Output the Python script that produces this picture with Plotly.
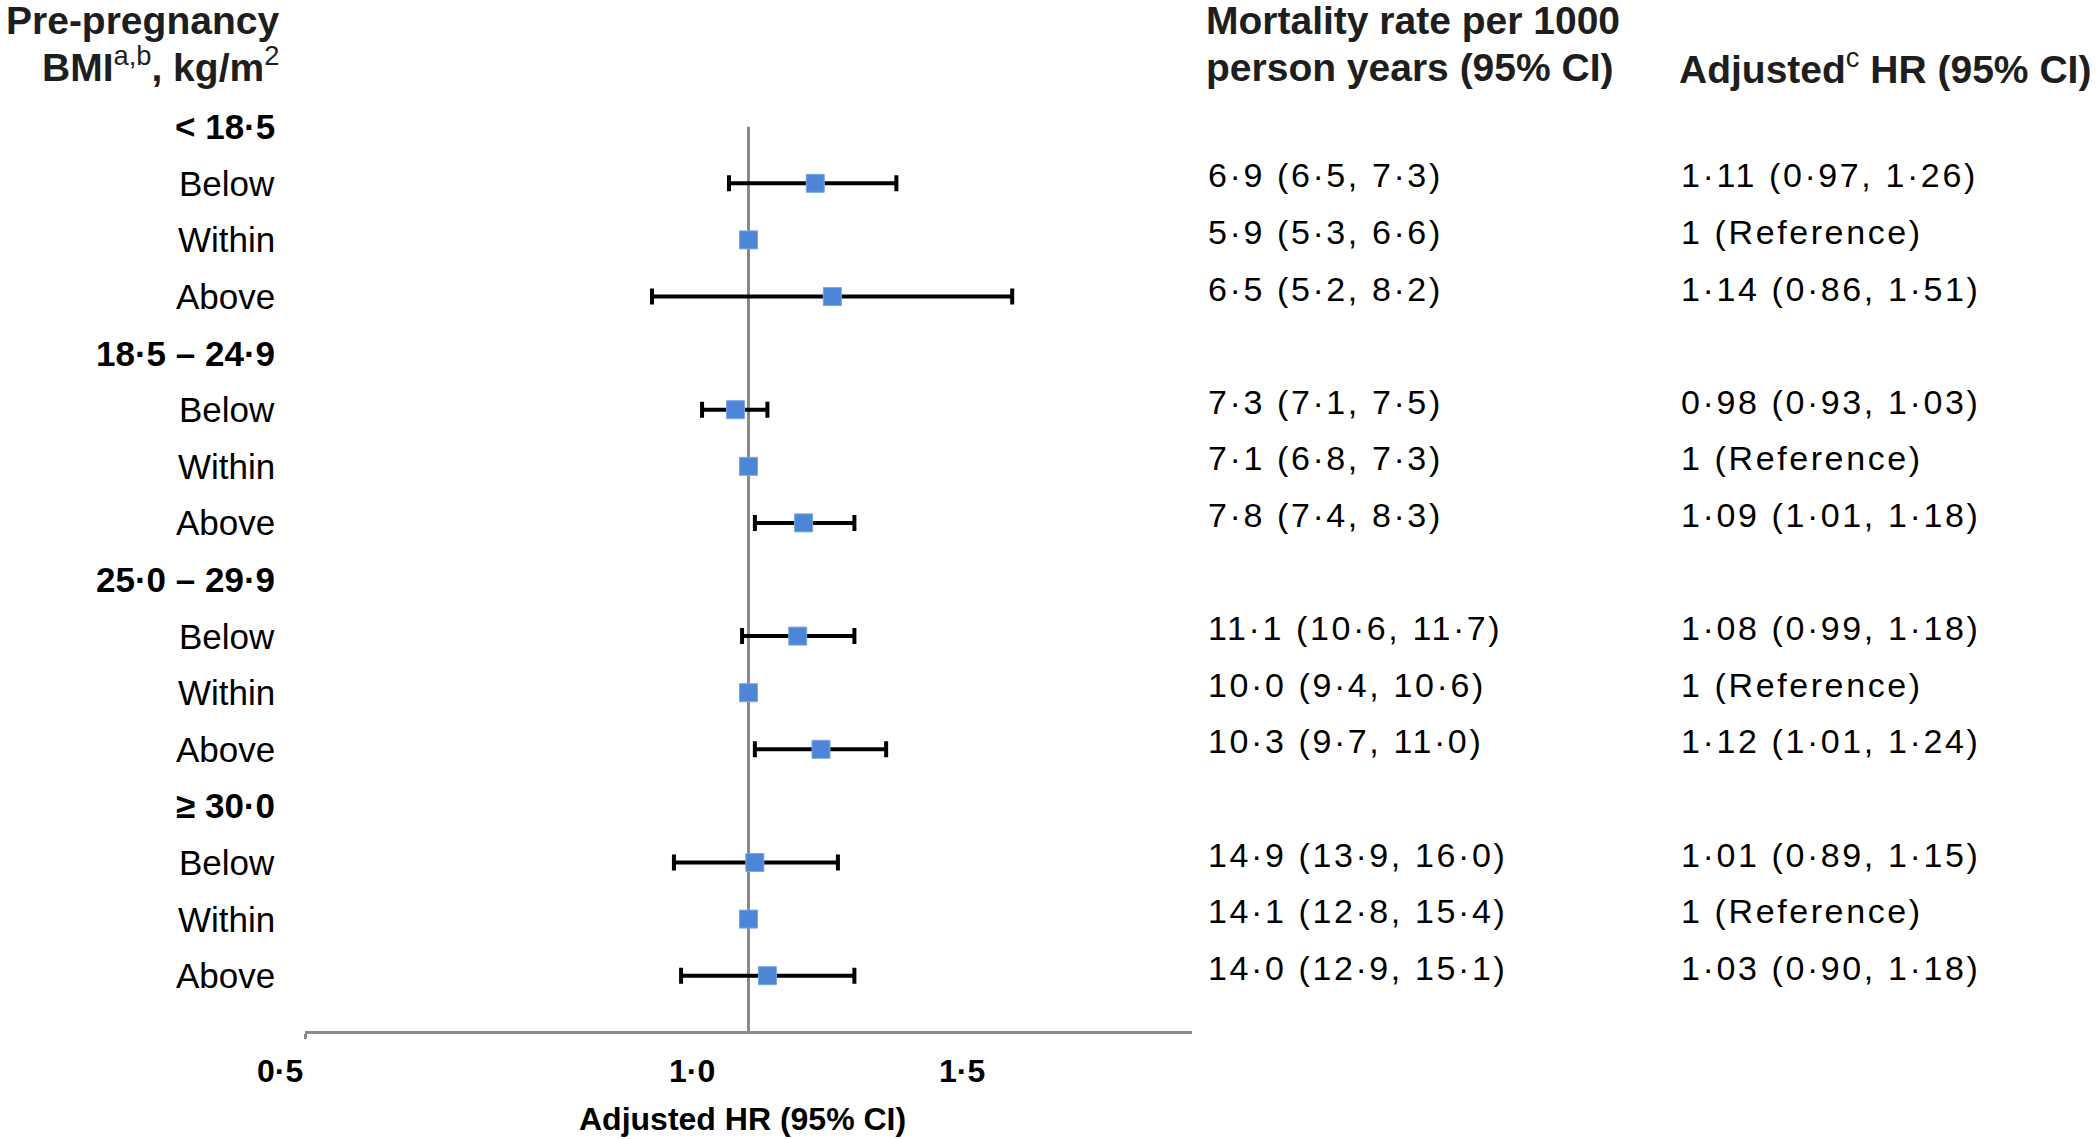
import math
import plotly.graph_objects as go

# ---------------- data ----------------
groups = ["< 18·5", "18·5 – 24·9", "25·0 – 29·9", "≥ 30·0"]
subgroups = ["Below", "Within", "Above"]

hr = [1.11, 1.00, 1.14, 0.98, 1.00, 1.09, 1.08, 1.00, 1.12, 1.01, 1.00, 1.03]
hr_lo = [0.97, None, 0.86, 0.93, None, 1.01, 0.99, None, 1.01, 0.89, None, 0.90]
hr_hi = [1.26, None, 1.51, 1.03, None, 1.18, 1.18, None, 1.24, 1.15, None, 1.18]

rate = [6.9, 5.9, 6.5, 7.3, 7.1, 7.8, 11.1, 10.0, 10.3, 14.9, 14.1, 14.0]
rate_lo = [6.5, 5.3, 5.2, 7.1, 6.8, 7.4, 10.6, 9.4, 9.7, 13.9, 12.8, 12.9]
rate_hi = [7.3, 6.6, 8.2, 7.5, 7.3, 8.3, 11.7, 10.6, 11.0, 16.0, 15.4, 15.1]

x_tick_labels = ["0·5", "1·0", "1·5"]

# ---------------- layout geometry ----------------
W, H = 2100, 1139
L, R = 305, 1192          # plot area left / right (px)
T, B = 100, 1031          # plot area top / bottom (px)
ROW0, ROWSTEP = 126.7, 56.6
PW, PH = R - L, B - T
y_top = -(ROW0 - T) / ROWSTEP
y_bot = y_top + PH / ROWSTEP


def px_x(px):
    return (px - L) / PW


def px_y(py):
    return (B - py) / PH


def fmt(v, d):
    return f"{v:.{d}f}".replace(".", "·")


FONT = "Liberation Sans, Arial, sans-serif"
BLUE = "#4d86d6"
GRAY = "#8a8a8a"

# row positions
data_y = []
for g in range(len(groups)):
    for s in range(len(subgroups)):
        data_y.append(g * 4 + s + 1)

err_plus = [(h - v) if h is not None else None for v, h in zip(hr, hr_hi)]
err_minus = [(v - l) if l is not None else None for v, l in zip(hr, hr_lo)]

fig = go.Figure()

# reference line at HR = 1
fig.add_trace(go.Scatter(
    x=[1, 1], y=[0, y_bot], mode="lines",
    line=dict(color=GRAY, width=3), hoverinfo="skip", showlegend=False,
    cliponaxis=False,
))

fig.add_trace(go.Scatter(
    x=hr, y=data_y, mode="markers",
    marker=dict(symbol="square", size=18, color=BLUE,
                line=dict(color="#7aa6e3", width=1)),
    error_x=dict(type="data", symmetric=False, array=err_plus,
                 arrayminus=err_minus, color="black", thickness=4, width=8),
    showlegend=False,
))

annotations = []

# row labels
LAB_X = px_x(277)
for g, name in enumerate(groups):
    annotations.append(dict(
        x=LAB_X, xref="paper", y=g * 4, yref="y", text=f"<b>{name}</b>",
        xanchor="right", yanchor="middle", showarrow=False,
        font=dict(family=FONT, size=35, color="black")))
    for s, sub in enumerate(subgroups):
        annotations.append(dict(
            x=LAB_X, xref="paper", y=g * 4 + s + 1, yref="y", text=sub,
            xanchor="right", yanchor="middle", showarrow=False,
            font=dict(family=FONT, size=35, color="black")))

# table columns
SP = "letter-spacing:2.6px"
for i, yv in enumerate(data_y):
    t1 = f"{fmt(rate[i], 1)} ({fmt(rate_lo[i], 1)}, {fmt(rate_hi[i], 1)})"
    if hr_lo[i] is None:
        t2 = "1 (Reference)"
    else:
        t2 = f"{fmt(hr[i], 2)} ({fmt(hr_lo[i], 2)}, {fmt(hr_hi[i], 2)})"
    annotations.append(dict(
        x=px_x(1206), xref="paper", y=yv, yref="y", yshift=8,
        text=f'<span style="{SP}">{t1}</span>',
        xanchor="left", yanchor="middle", showarrow=False,
        font=dict(family=FONT, size=34, color="black")))
    annotations.append(dict(
        x=px_x(1679), xref="paper", y=yv, yref="y", yshift=8,
        text=f'<span style="{SP}">{t2}</span>',
        xanchor="left", yanchor="middle", showarrow=False,
        font=dict(family=FONT, size=34, color="black")))

# headers
HDR = dict(family=FONT, size=39, color="#1e1e1e")
annotations += [
    dict(x=px_x(281), xref="paper", y=px_y(21), yref="paper",
         text="<b>Pre-pregnancy</b>", xanchor="right", yanchor="middle",
         showarrow=False, font=HDR),
    dict(x=px_x(281), xref="paper", y=px_y(65), yref="paper",
         text="<b>BMI</b><sup>a,b</sup><b>, kg/m</b><sup>2</sup>",
         xanchor="right", yanchor="middle", showarrow=False, font=HDR),
    dict(x=px_x(1204), xref="paper", y=px_y(21), yref="paper",
         text="<b>Mortality rate per 1000</b>", xanchor="left",
         yanchor="middle", showarrow=False, font=HDR),
    dict(x=px_x(1204), xref="paper", y=px_y(67), yref="paper",
         text="<b>person years (95% CI)</b>", xanchor="left",
         yanchor="middle", showarrow=False, font=HDR),
    dict(x=px_x(1677), xref="paper", y=px_y(66), yref="paper",
         text="<b>Adjusted</b><sup>c</sup><b> HR (95% CI)</b>", xanchor="left",
         yanchor="middle", showarrow=False, font=HDR),
]

# x tick labels (placed as in the original figure)
for lab, pxc in zip(x_tick_labels, [280, 692, 962]):
    annotations.append(dict(
        x=px_x(pxc), xref="paper", y=px_y(1071), yref="paper",
        text=f"<b>{lab}</b>", xanchor="center", yanchor="middle",
        showarrow=False, font=dict(family=FONT, size=32, color="black")))

# x axis title
annotations.append(dict(
    x=px_x(742), xref="paper", y=px_y(1119), yref="paper",
    text="<b>Adjusted HR (95% CI)</b>", xanchor="center", yanchor="middle",
    showarrow=False, font=dict(family=FONT, size=32, color="black")))

fig.update_layout(
    width=W, height=H,
    margin=dict(l=L, r=W - R, t=T, b=H - B, pad=0),
    paper_bgcolor="white", plot_bgcolor="white",
    annotations=annotations,
    xaxis=dict(type="log", range=[math.log10(0.5), math.log10(2)],
               showgrid=False, zeroline=False, showline=True,
               linecolor=GRAY, linewidth=3,
               tickvals=[0.5], ticks="outside", ticklen=5, tickwidth=3,
               tickcolor=GRAY, showticklabels=False),
    yaxis=dict(range=[y_bot, y_top], visible=False),
    font=dict(family=FONT),
)

fig.write_html("out.html", config={"displayModeBar": False},
               post_script="document.body.style.margin='0';")
